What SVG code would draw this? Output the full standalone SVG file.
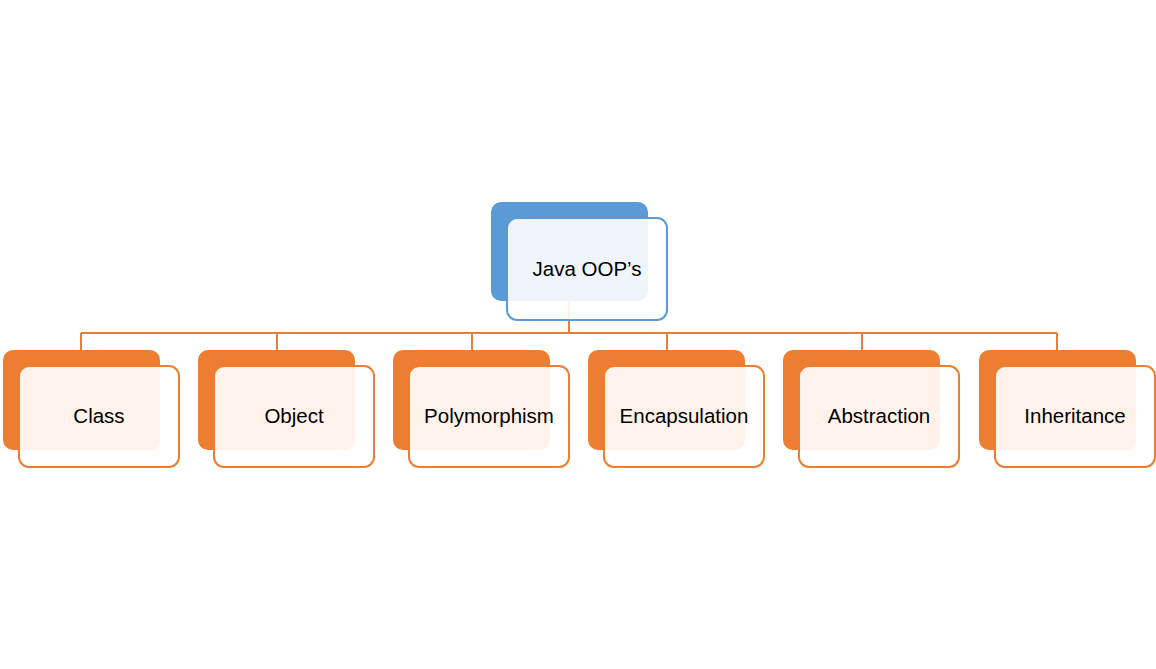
<svg xmlns="http://www.w3.org/2000/svg" width="1156" height="669" viewBox="0 0 1156 669">
<style>
.bo{fill:#ED7D31}
.fo{fill:#FFFFFF;fill-opacity:0.9;stroke:#ED7D31;stroke-width:2}
.bb{fill:#5B9BD5}
.fb{fill:#FFFFFF;fill-opacity:0.9;stroke:#5B9BD5;stroke-width:2}
.t{font-family:"Liberation Sans",Arial,sans-serif;font-size:20.5px;fill:#000;text-anchor:middle;dominant-baseline:central}
.c{stroke:#ED7D31;stroke-width:2;fill:none}
</style>
<rect width="1156" height="669" fill="#FFFFFF"/>
<g id="connectors">
<path class="c" d="M569,301V333M81,333H1057M81,333V350M277,333V350M472,333V350M667,333V350M862,333V350M1057,333V350"/>
</g>
<g id="root">
<rect class="bb" x="491" y="202" width="157" height="99" rx="10"/>
<rect class="fb" x="507" y="218" width="160" height="102" rx="10"/>
<text class="t" x="587" y="268">Java OOP’s</text>
</g>
<g id="class">
<rect class="bo" x="3" y="350" width="157" height="100" rx="10"/>
<rect class="fo" x="19" y="366" width="160" height="101" rx="10"/>
<text class="t" x="99" y="415">Class</text>
</g>
<g id="object">
<rect class="bo" x="198" y="350" width="157" height="100" rx="10"/>
<rect class="fo" x="214" y="366" width="160" height="101" rx="10"/>
<text class="t" x="294" y="415">Object</text>
</g>
<g id="polymorphism">
<rect class="bo" x="393" y="350" width="157" height="100" rx="10"/>
<rect class="fo" x="409" y="366" width="160" height="101" rx="10"/>
<text class="t" x="489" y="415">Polymorphism</text>
</g>
<g id="encapsulation">
<rect class="bo" x="588" y="350" width="157" height="100" rx="10"/>
<rect class="fo" x="604" y="366" width="160" height="101" rx="10"/>
<text class="t" x="684" y="415">Encapsulation</text>
</g>
<g id="abstraction">
<rect class="bo" x="783" y="350" width="157" height="100" rx="10"/>
<rect class="fo" x="799" y="366" width="160" height="101" rx="10"/>
<text class="t" x="879" y="415">Abstraction</text>
</g>
<g id="inheritance">
<rect class="bo" x="979" y="350" width="157" height="100" rx="10"/>
<rect class="fo" x="995" y="366" width="160" height="101" rx="10"/>
<text class="t" x="1075" y="415">Inheritance</text>
</g>
</svg>
